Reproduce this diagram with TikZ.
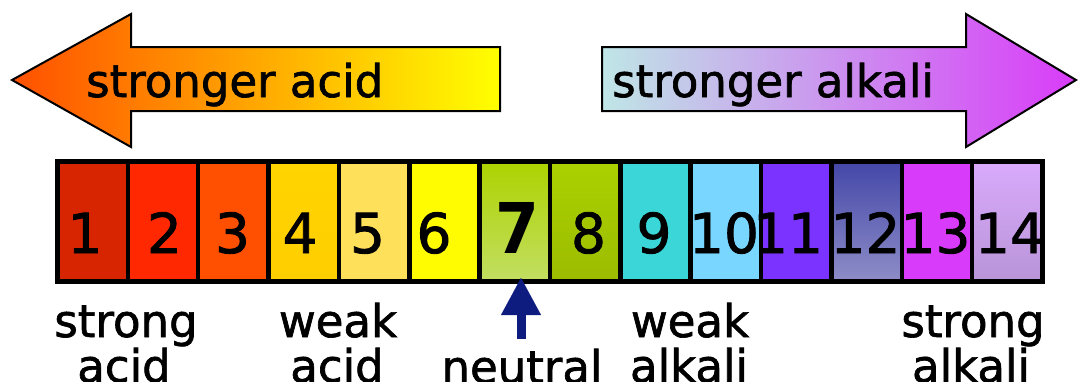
\documentclass[tikz,border=0pt]{standalone}
\usepackage{fontspec}
\setmainfont{DejaVu Sans}
\newfontfamily\heavyfont[FakeBold=1.5]{DejaVu Sans}
\usetikzlibrary{arrows.meta}
\definecolor{accL}{HTML}{FF5000}
\definecolor{accM}{HTML}{FFAA00}
\definecolor{accR}{HTML}{FFFF00}
\definecolor{alkL}{HTML}{BFE6E6}
\definecolor{alkM}{HTML}{D3B0F0}
\definecolor{alkR}{HTML}{D93CF8}
\definecolor{navyarrow}{HTML}{0E1C80}
\definecolor{p1}{HTML}{D62500}
\definecolor{p2}{HTML}{FF2800}
\definecolor{p3}{HTML}{FF4F00}
\definecolor{p4t}{HTML}{FFD400}
\definecolor{p4b}{HTML}{FFCE00}
\definecolor{p5}{HTML}{FFE05A}
\definecolor{p6}{HTML}{FFFB00}
\definecolor{p7t}{HTML}{ADD300}
\definecolor{p7b}{HTML}{C2DE62}
\definecolor{p8t}{HTML}{ABD100}
\definecolor{p8b}{HTML}{9BBC00}
\definecolor{p9}{HTML}{3AD6D8}
\definecolor{p10}{HTML}{78D6FF}
\definecolor{p11}{HTML}{7B34FF}
\definecolor{p12t}{HTML}{4447A8}
\definecolor{p12b}{HTML}{8E8DC8}
\definecolor{p13}{HTML}{D93BFA}
\definecolor{p14t}{HTML}{DAAAFC}
\definecolor{p14b}{HTML}{B894D8}
\begin{document}
\begin{tikzpicture}[x=1pt,y=-1pt,
  cellbox/.style={draw=black, line width=4.5pt, minimum width=70.357pt,
    minimum height=120pt, inner sep=0pt},
  num/.style={anchor=base, inner sep=0pt, font=\heavyfont\fontsize{55}{55}\selectfont},
  bignum/.style={anchor=base, inner sep=0pt, xscale=0.9,
    font=\fontsize{70}{70}\selectfont\bfseries},
  lab/.style={anchor=base, inner sep=0pt, font=\heavyfont\fontsize{45}{45}\selectfont},
  headtext/.style={anchor=base west, inner sep=0pt, font=\heavyfont\fontsize{45}{45}\selectfont},
  bigarrow/.style={draw=black, line width=2pt, line join=miter}]
\useasboundingbox (0,0) rectangle (1078,381);

% big direction arrows
\shadedraw[bigarrow, left color=accL, middle color=accM, right color=accR]
  (12,80) -- (131,14) -- (131,47) -- (500,47) -- (500,111) -- (131,111) -- (131,147) -- cycle;
\node[headtext] (acidtxt) at (86,97) {stronger acid};

\shadedraw[bigarrow, left color=alkL, middle color=alkM, right color=alkR]
  (602,47) -- (966,47) -- (966,14) -- (1076,80) -- (966,147) -- (966,111) -- (602,111) -- cycle;
\node[headtext] (alktxt) at (612,97) {stronger alkali};

% pH cells
\foreach \i/\ct/\cb in {1/p1/p1, 2/p2/p2, 3/p3/p3, 4/p4t/p4b, 5/p5/p5, 6/p6/p6,
    7/p7t/p7b, 8/p8t/p8b, 9/p9/p9, 10/p10/p10, 11/p11/p11, 12/p12t/p12b,
    13/p13/p13, 14/p14t/p14b}
  \node[cellbox, top color=\ct, bottom color=\cb] (c\i) at ({57.5+(\i-0.5)*70.357}, 221.5) {};

% numbers
\node[num] (n1) at (85,253) {1};
\node[num] (n2) at (164.5,253) {2};
\node[num] (n3) at (232.5,253) {3};
\node[num] (n4) at (300,253) {4};
\node[num] (n5) at (367.5,253) {5};
\node[num] (n6) at (434,253) {6};
\node[bignum] (n7) at (517,253) {7};
\node[num] (n8) at (588.5,253) {8};
\node[num] (n9) at (654,253) {9};
\node[num] (n10) at (724,253) {10};
\node[num] (n11) at (788,253) {11};
\node[num] (n12) at (865.5,253) {12};
\node[num] (n13) at (935.5,253) {13};
\node[num] (n14) at (1010,253) {14};

% neutral pointer
\coordinate (nb) at (521,339);
\coordinate (nt) at (521,278);
\draw[navyarrow, line width=9pt, -{Triangle[width=40pt,length=37pt,line width=0.1pt]}] (nb) -- (nt);

% bottom labels
\node[lab] (sa1) at (126,337) {strong};
\node[lab] (sa2) at (124,382) {acid};
\node[lab] (wa1) at (338,337) {weak};
\node[lab] (wa2) at (337,382) {acid};
\node[lab] (neu) at (522,383) {neutral};
\node[lab] (wk1) at (690,337) {weak};
\node[lab] (wk2) at (689,382) {alkali};
\node[lab] (sk1) at (973,337) {strong};
\node[lab] (sk2) at (971,382) {alkali};
\end{tikzpicture}
\end{document}
